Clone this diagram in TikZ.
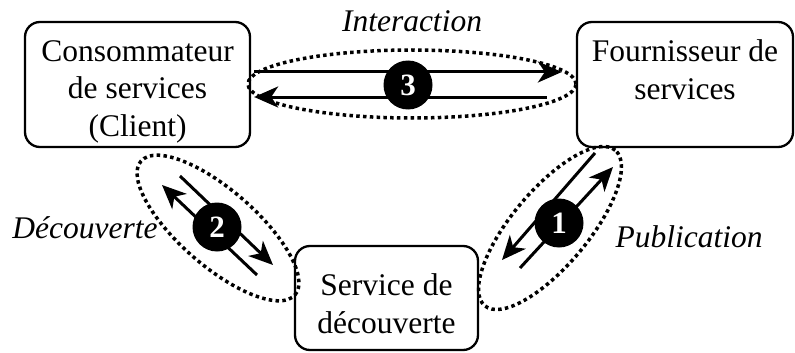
\documentclass[tikz,border=0pt]{standalone}
\usepackage{fontspec}
\setmainfont{Liberation Serif}
\usetikzlibrary{arrows.meta,shapes.geometric}
\newcommand{\uplift}[1]{\rule{0pt}{#1}}
\newcommand{\downlift}[1]{\rule[-#1]{0pt}{#1}}
\tikzset{
  box/.style={draw, line width=2.3pt, rounded corners=15pt, align=center, inner sep=0pt},
  ring/.style={draw, ellipse, dash pattern=on 3.5pt off 3.3pt, line width=3.5pt, inner sep=0pt},
  arr/.style={line width=3pt, -{Stealth[length=24pt,width=21pt,inset=7pt]}},
  num/.style={circle, fill=black, text=white, minimum size=49pt, inner sep=0pt, font=\fontsize{31pt}{31pt}\selectfont\bfseries},
  lbl/.style={anchor=base, inner sep=0pt, font=\fontsize{31.5pt}{37.5pt}\selectfont\itshape}
}
\begin{document}
\begin{tikzpicture}[x=1pt, y=-1pt, font=\fontsize{31.5pt}{37.5pt}\selectfont]
      \useasboundingbox (0,0) rectangle (795,353);
      \draw
        (137.5,84.5) node[box, minimum width=225pt, minimum height=125pt] (cons){\uplift{35.6pt}Consommateur\\de services\\(Client)}
        (685,84.5) node[box, minimum width=216pt, minimum height=125pt] (prov){Fournisseur de\\services\downlift{29.5pt}}
        (386.5,298) node[box, minimum width=183pt, minimum height=104pt] (disc){\uplift{33pt}Service de\\découverte};
      \node[ring, minimum width=328pt, minimum height=68pt] (ring3) at (412,84) {};
      \node[ring, minimum width=204pt, minimum height=76pt, rotate=-41] (ring2) at (218,228) {};
      \node[ring, minimum width=203pt, minimum height=76pt, rotate=50] (ring1) at (550,228) {};
      \coordinate (p1a) at (595,153);
      \coordinate (p1b) at (502,260);
      \coordinate (p1c) at (520,268);
      \coordinate (p1d) at (613,167);
      \coordinate (d2a) at (180,176);
      \coordinate (d2b) at (273,265);
      \coordinate (d2c) at (257,275);
      \coordinate (d2d) at (162,185);
      \begin{scope}[arr]
        \draw[shorten <=3pt, shorten >=14pt] ([yshift=12.5pt]cons.east) to ([yshift=12.5pt]prov.west);
        \draw[shorten <=29pt, shorten >=3pt] ([yshift=-12.5pt]prov.west) to ([yshift=-12.5pt]cons.east);
        \draw (p1a) to (p1b);
        \draw (p1c) to (p1d);
        \draw (d2a) to (d2b);
        \draw (d2c) to (d2d);
      \end{scope}
      \node[num] (n1) at (559,223) {1};
      \node[num] (n2) at (217,227) {2};
      \node[num] (n3) at (408,85) {3};
      \node[lbl] (linter) at (412,32) {Interaction};
      \node[lbl] (ldisc) at (85,238) {Découverte};
      \node[lbl] (lpub) at (689,247) {Publication};
    \end{tikzpicture}
\end{document}
